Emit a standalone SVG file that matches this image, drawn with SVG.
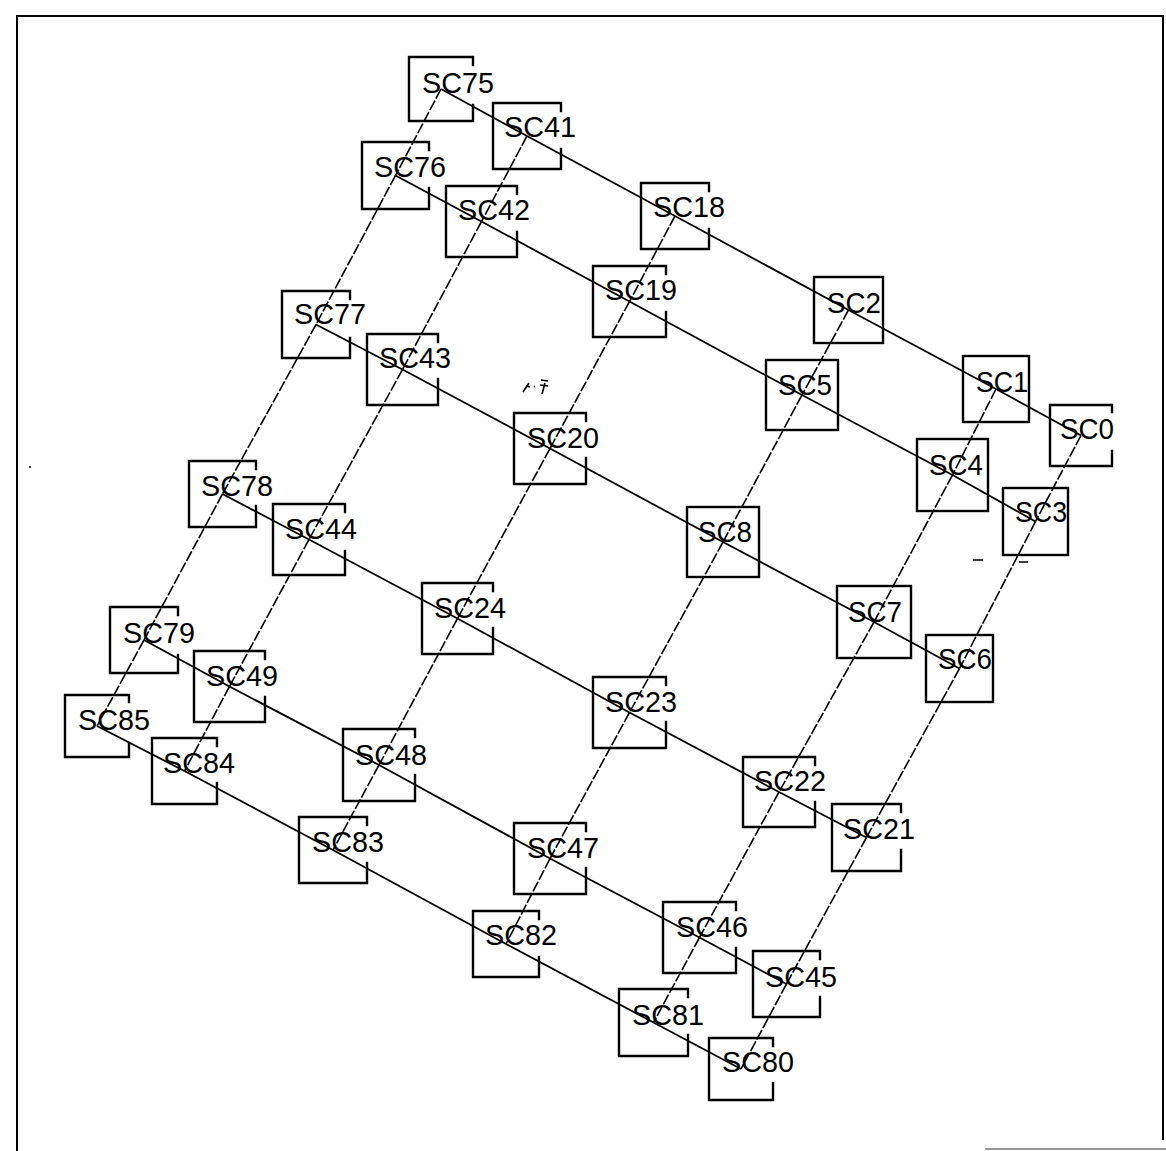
<svg xmlns="http://www.w3.org/2000/svg" width="1166" height="1151" viewBox="0 0 1166 1151">
<style>
.bx{fill:none;stroke:#000;stroke-width:2.4;stroke-linecap:square}
.lb{font-family:"Liberation Sans Narrow","Liberation Sans",Arial,sans-serif;font-size:29px;fill:#000}
.r{stroke:#000;stroke-width:1.8;fill:none}
.c{stroke:#000;stroke-width:1.6;fill:none;stroke-dasharray:11 2}
.fr{stroke:#000;stroke-width:2;fill:none}
</style>
<rect width="1166" height="1151" fill="#fff"/>
<g id="frame">
<path class="fr" d="M17,1151 V16 H1163 V1140"/>
<path d="M985,1149 H1166" stroke="#999" stroke-width="2"/>
</g>
<g id="connectors">
<line class="r" x1="441" y1="89" x2="527" y2="136"/><line class="r" x1="527" y1="136" x2="675" y2="216"/><line class="r" x1="675" y1="216" x2="848.5" y2="310"/><line class="r" x1="848.5" y1="310" x2="996" y2="389"/><line class="r" x1="996" y1="389" x2="1081" y2="435.5"/>
<line class="r" x1="395.5" y1="175.5" x2="481.5" y2="221.5"/><line class="r" x1="481.5" y1="221.5" x2="629.5" y2="301.5"/><line class="r" x1="629.5" y1="301.5" x2="802" y2="395"/><line class="r" x1="802" y1="395" x2="952.5" y2="475"/><line class="r" x1="952.5" y1="475" x2="1035.5" y2="521.5"/>
<line class="r" x1="316" y1="324.5" x2="402.5" y2="369.5"/><line class="r" x1="402.5" y1="369.5" x2="550" y2="448.5"/><line class="r" x1="550" y1="448.5" x2="723" y2="542"/><line class="r" x1="723" y1="542" x2="874" y2="622"/><line class="r" x1="874" y1="622" x2="959.5" y2="668.5"/>
<line class="r" x1="222.5" y1="494" x2="309" y2="539.5"/><line class="r" x1="309" y1="539.5" x2="457.5" y2="618.5"/><line class="r" x1="457.5" y1="618.5" x2="629.5" y2="712.5"/><line class="r" x1="629.5" y1="712.5" x2="779" y2="792"/><line class="r" x1="779" y1="792" x2="866.5" y2="837.5"/>
<line class="r" x1="144" y1="640" x2="229.5" y2="686.5"/><line class="r" x1="229.5" y1="686.5" x2="379" y2="765"/><line class="r" x1="379" y1="765" x2="550" y2="858.5"/><line class="r" x1="550" y1="858.5" x2="699.5" y2="937.5"/><line class="r" x1="699.5" y1="937.5" x2="786.5" y2="984"/>
<line class="r" x1="97" y1="726" x2="184.5" y2="771"/><line class="r" x1="184.5" y1="771" x2="333" y2="850"/><line class="r" x1="333" y1="850" x2="506" y2="944"/><line class="r" x1="506" y1="944" x2="653.5" y2="1022.5"/><line class="r" x1="653.5" y1="1022.5" x2="741" y2="1069"/>
<line class="c" x1="441" y1="89" x2="395.5" y2="175.5"/><line class="c" x1="395.5" y1="175.5" x2="316" y2="324.5"/><line class="c" x1="316" y1="324.5" x2="222.5" y2="494"/><line class="c" x1="222.5" y1="494" x2="144" y2="640"/><line class="c" x1="144" y1="640" x2="97" y2="726"/>
<line class="c" x1="527" y1="136" x2="481.5" y2="221.5"/><line class="c" x1="481.5" y1="221.5" x2="402.5" y2="369.5"/><line class="c" x1="402.5" y1="369.5" x2="309" y2="539.5"/><line class="c" x1="309" y1="539.5" x2="229.5" y2="686.5"/><line class="c" x1="229.5" y1="686.5" x2="184.5" y2="771"/>
<line class="c" x1="675" y1="216" x2="629.5" y2="301.5"/><line class="c" x1="629.5" y1="301.5" x2="550" y2="448.5"/><line class="c" x1="550" y1="448.5" x2="457.5" y2="618.5"/><line class="c" x1="457.5" y1="618.5" x2="379" y2="765"/><line class="c" x1="379" y1="765" x2="333" y2="850"/>
<line class="c" x1="848.5" y1="310" x2="802" y2="395"/><line class="c" x1="802" y1="395" x2="723" y2="542"/><line class="c" x1="723" y1="542" x2="629.5" y2="712.5"/><line class="c" x1="629.5" y1="712.5" x2="550" y2="858.5"/><line class="c" x1="550" y1="858.5" x2="506" y2="944"/>
<line class="c" x1="996" y1="389" x2="952.5" y2="475"/><line class="c" x1="952.5" y1="475" x2="874" y2="622"/><line class="c" x1="874" y1="622" x2="779" y2="792"/><line class="c" x1="779" y1="792" x2="699.5" y2="937.5"/><line class="c" x1="699.5" y1="937.5" x2="653.5" y2="1022.5"/>
<line class="c" x1="1081" y1="435.5" x2="1035.5" y2="521.5"/><line class="c" x1="1035.5" y1="521.5" x2="959.5" y2="668.5"/><line class="c" x1="959.5" y1="668.5" x2="866.5" y2="837.5"/><line class="c" x1="866.5" y1="837.5" x2="786.5" y2="984"/><line class="c" x1="786.5" y1="984" x2="741" y2="1069"/>
</g>
<g id="SC75"><path class="bx" d="M473,65 V57 H409 V121 H473 V105"/><text class="lb" x="422" y="93" textLength="72" lengthAdjust="spacingAndGlyphs">SC75</text></g>
<g id="SC41"><path class="bx" d="M561,111 V103 H493 V169 H561 V149"/><text class="lb" x="504" y="137" textLength="72" lengthAdjust="spacingAndGlyphs">SC41</text></g>
<g id="SC76"><path class="bx" d="M429,150 V142 H362 V209 H429 V188"/><text class="lb" x="374" y="177" textLength="72" lengthAdjust="spacingAndGlyphs">SC76</text></g>
<g id="SC42"><path class="bx" d="M517,194 V186 H446 V257 H517 V232"/><text class="lb" x="458" y="220" textLength="72" lengthAdjust="spacingAndGlyphs">SC42</text></g>
<g id="SC18"><path class="bx" d="M709,191 V183 H641 V249 H709 V229"/><text class="lb" x="653" y="217" textLength="72" lengthAdjust="spacingAndGlyphs">SC18</text></g>
<g id="SC19"><path class="bx" d="M666,274 V266 H593 V337 H666 V312"/><text class="lb" x="605" y="300" textLength="72" lengthAdjust="spacingAndGlyphs">SC19</text></g>
<g id="SC2"><rect class="bx" x="814" y="277" width="69" height="66"/><text class="lb" x="827" y="313" textLength="54" lengthAdjust="spacingAndGlyphs">SC2</text></g>
<g id="SC77"><path class="bx" d="M350,299 V291 H282 V358 H350 V338"/><text class="lb" x="294" y="324" textLength="72" lengthAdjust="spacingAndGlyphs">SC77</text></g>
<g id="SC43"><path class="bx" d="M438,342 V334 H367 V405 H438 V379"/><text class="lb" x="379" y="368" textLength="72" lengthAdjust="spacingAndGlyphs">SC43</text></g>
<g id="SC5"><rect class="bx" x="766" y="360" width="72" height="70"/><text class="lb" x="778" y="395" textLength="54" lengthAdjust="spacingAndGlyphs">SC5</text></g>
<g id="SC1"><rect class="bx" x="963" y="356" width="66" height="66"/><text class="lb" x="976" y="392" textLength="52" lengthAdjust="spacingAndGlyphs">SC1</text></g>
<g id="SC0"><path class="bx" d="M1112,412 V405 H1050 V466 H1112 V451"/><text class="lb" x="1060" y="439" textLength="54" lengthAdjust="spacingAndGlyphs">SC0</text></g>
<g id="SC20"><path class="bx" d="M586,421 V413 H514 V484 H586 V458"/><text class="lb" x="527" y="448" textLength="72" lengthAdjust="spacingAndGlyphs">SC20</text></g>
<g id="SC4"><rect class="bx" x="917" y="439" width="71" height="72"/><text class="lb" x="929" y="475" textLength="54" lengthAdjust="spacingAndGlyphs">SC4</text></g>
<g id="SC3"><rect class="bx" x="1003" y="488" width="65" height="67"/><text class="lb" x="1015" y="522" textLength="52" lengthAdjust="spacingAndGlyphs">SC3</text></g>
<g id="SC78"><path class="bx" d="M256,469 V461 H189 V527 H256 V506"/><text class="lb" x="201" y="496" textLength="72" lengthAdjust="spacingAndGlyphs">SC78</text></g>
<g id="SC44"><path class="bx" d="M345,512 V504 H273 V575 H345 V551"/><text class="lb" x="285" y="539" textLength="72" lengthAdjust="spacingAndGlyphs">SC44</text></g>
<g id="SC8"><rect class="bx" x="687" y="507" width="72" height="70"/><text class="lb" x="698" y="542" textLength="54" lengthAdjust="spacingAndGlyphs">SC8</text></g>
<g id="SC24"><path class="bx" d="M493,591 V583 H422 V654 H493 V628"/><text class="lb" x="434" y="618" textLength="72" lengthAdjust="spacingAndGlyphs">SC24</text></g>
<g id="SC7"><rect class="bx" x="837" y="586" width="74" height="72"/><text class="lb" x="848" y="622" textLength="54" lengthAdjust="spacingAndGlyphs">SC7</text></g>
<g id="SC6"><rect class="bx" x="926" y="635" width="67" height="67"/><text class="lb" x="938" y="669" textLength="54" lengthAdjust="spacingAndGlyphs">SC6</text></g>
<g id="SC79"><path class="bx" d="M178,615 V607 H110 V673 H178 V655"/><text class="lb" x="123" y="643" textLength="72" lengthAdjust="spacingAndGlyphs">SC79</text></g>
<g id="SC49"><path class="bx" d="M265,659 V651 H194 V722 H265 V697"/><text class="lb" x="206" y="686" textLength="72" lengthAdjust="spacingAndGlyphs">SC49</text></g>
<g id="SC85"><path class="bx" d="M129,702 V695 H65 V757 H129 V743"/><text class="lb" x="78" y="730" textLength="72" lengthAdjust="spacingAndGlyphs">SC85</text></g>
<g id="SC23"><path class="bx" d="M666,685 V677 H593 V748 H666 V722"/><text class="lb" x="605" y="712" textLength="72" lengthAdjust="spacingAndGlyphs">SC23</text></g>
<g id="SC84"><path class="bx" d="M217,746 V738 H152 V804 H217 V783"/><text class="lb" x="163" y="773" textLength="72" lengthAdjust="spacingAndGlyphs">SC84</text></g>
<g id="SC48"><path class="bx" d="M415,737 V729 H343 V801 H415 V775"/><text class="lb" x="355" y="765" textLength="72" lengthAdjust="spacingAndGlyphs">SC48</text></g>
<g id="SC22"><path class="bx" d="M815,765 V757 H743 V827 H815 V802"/><text class="lb" x="754" y="791" textLength="72" lengthAdjust="spacingAndGlyphs">SC22</text></g>
<g id="SC21"><path class="bx" d="M901,812 V804 H832 V871 H901 V850"/><text class="lb" x="843" y="839" textLength="72" lengthAdjust="spacingAndGlyphs">SC21</text></g>
<g id="SC83"><path class="bx" d="M367,825 V817 H299 V883 H367 V863"/><text class="lb" x="312" y="852" textLength="72" lengthAdjust="spacingAndGlyphs">SC83</text></g>
<g id="SC47"><path class="bx" d="M586,831 V823 H514 V894 H586 V868"/><text class="lb" x="527" y="858" textLength="72" lengthAdjust="spacingAndGlyphs">SC47</text></g>
<g id="SC82"><path class="bx" d="M539,919 V911 H473 V977 H539 V957"/><text class="lb" x="485" y="945" textLength="72" lengthAdjust="spacingAndGlyphs">SC82</text></g>
<g id="SC46"><path class="bx" d="M736,910 V902 H663 V973 H736 V948"/><text class="lb" x="676" y="937" textLength="72" lengthAdjust="spacingAndGlyphs">SC46</text></g>
<g id="SC45"><path class="bx" d="M820,959 V951 H753 V1017 H820 V997"/><text class="lb" x="765" y="987" textLength="72" lengthAdjust="spacingAndGlyphs">SC45</text></g>
<g id="SC81"><path class="bx" d="M688,997 V989 H619 V1056 H688 V1035"/><text class="lb" x="632" y="1025" textLength="72" lengthAdjust="spacingAndGlyphs">SC81</text></g>
<g id="SC80"><path class="bx" d="M773,1046 V1038 H709 V1100 H773 V1083"/><text class="lb" x="722" y="1072" textLength="72" lengthAdjust="spacingAndGlyphs">SC80</text></g>
<g id="specks" stroke="#000" stroke-width="1.6" fill="none">
<path d="M523,392 L529,383 M526,386 L530,387 M534,386 L535,387 M541,380 L548,381 M540,385 L548,386 M545,383 L542,394"/>
<path d="M973,560 H983 M1019,562 H1028"/>
<circle cx="30" cy="467" r="1" fill="#000" stroke="none"/>
</g>
</svg>
